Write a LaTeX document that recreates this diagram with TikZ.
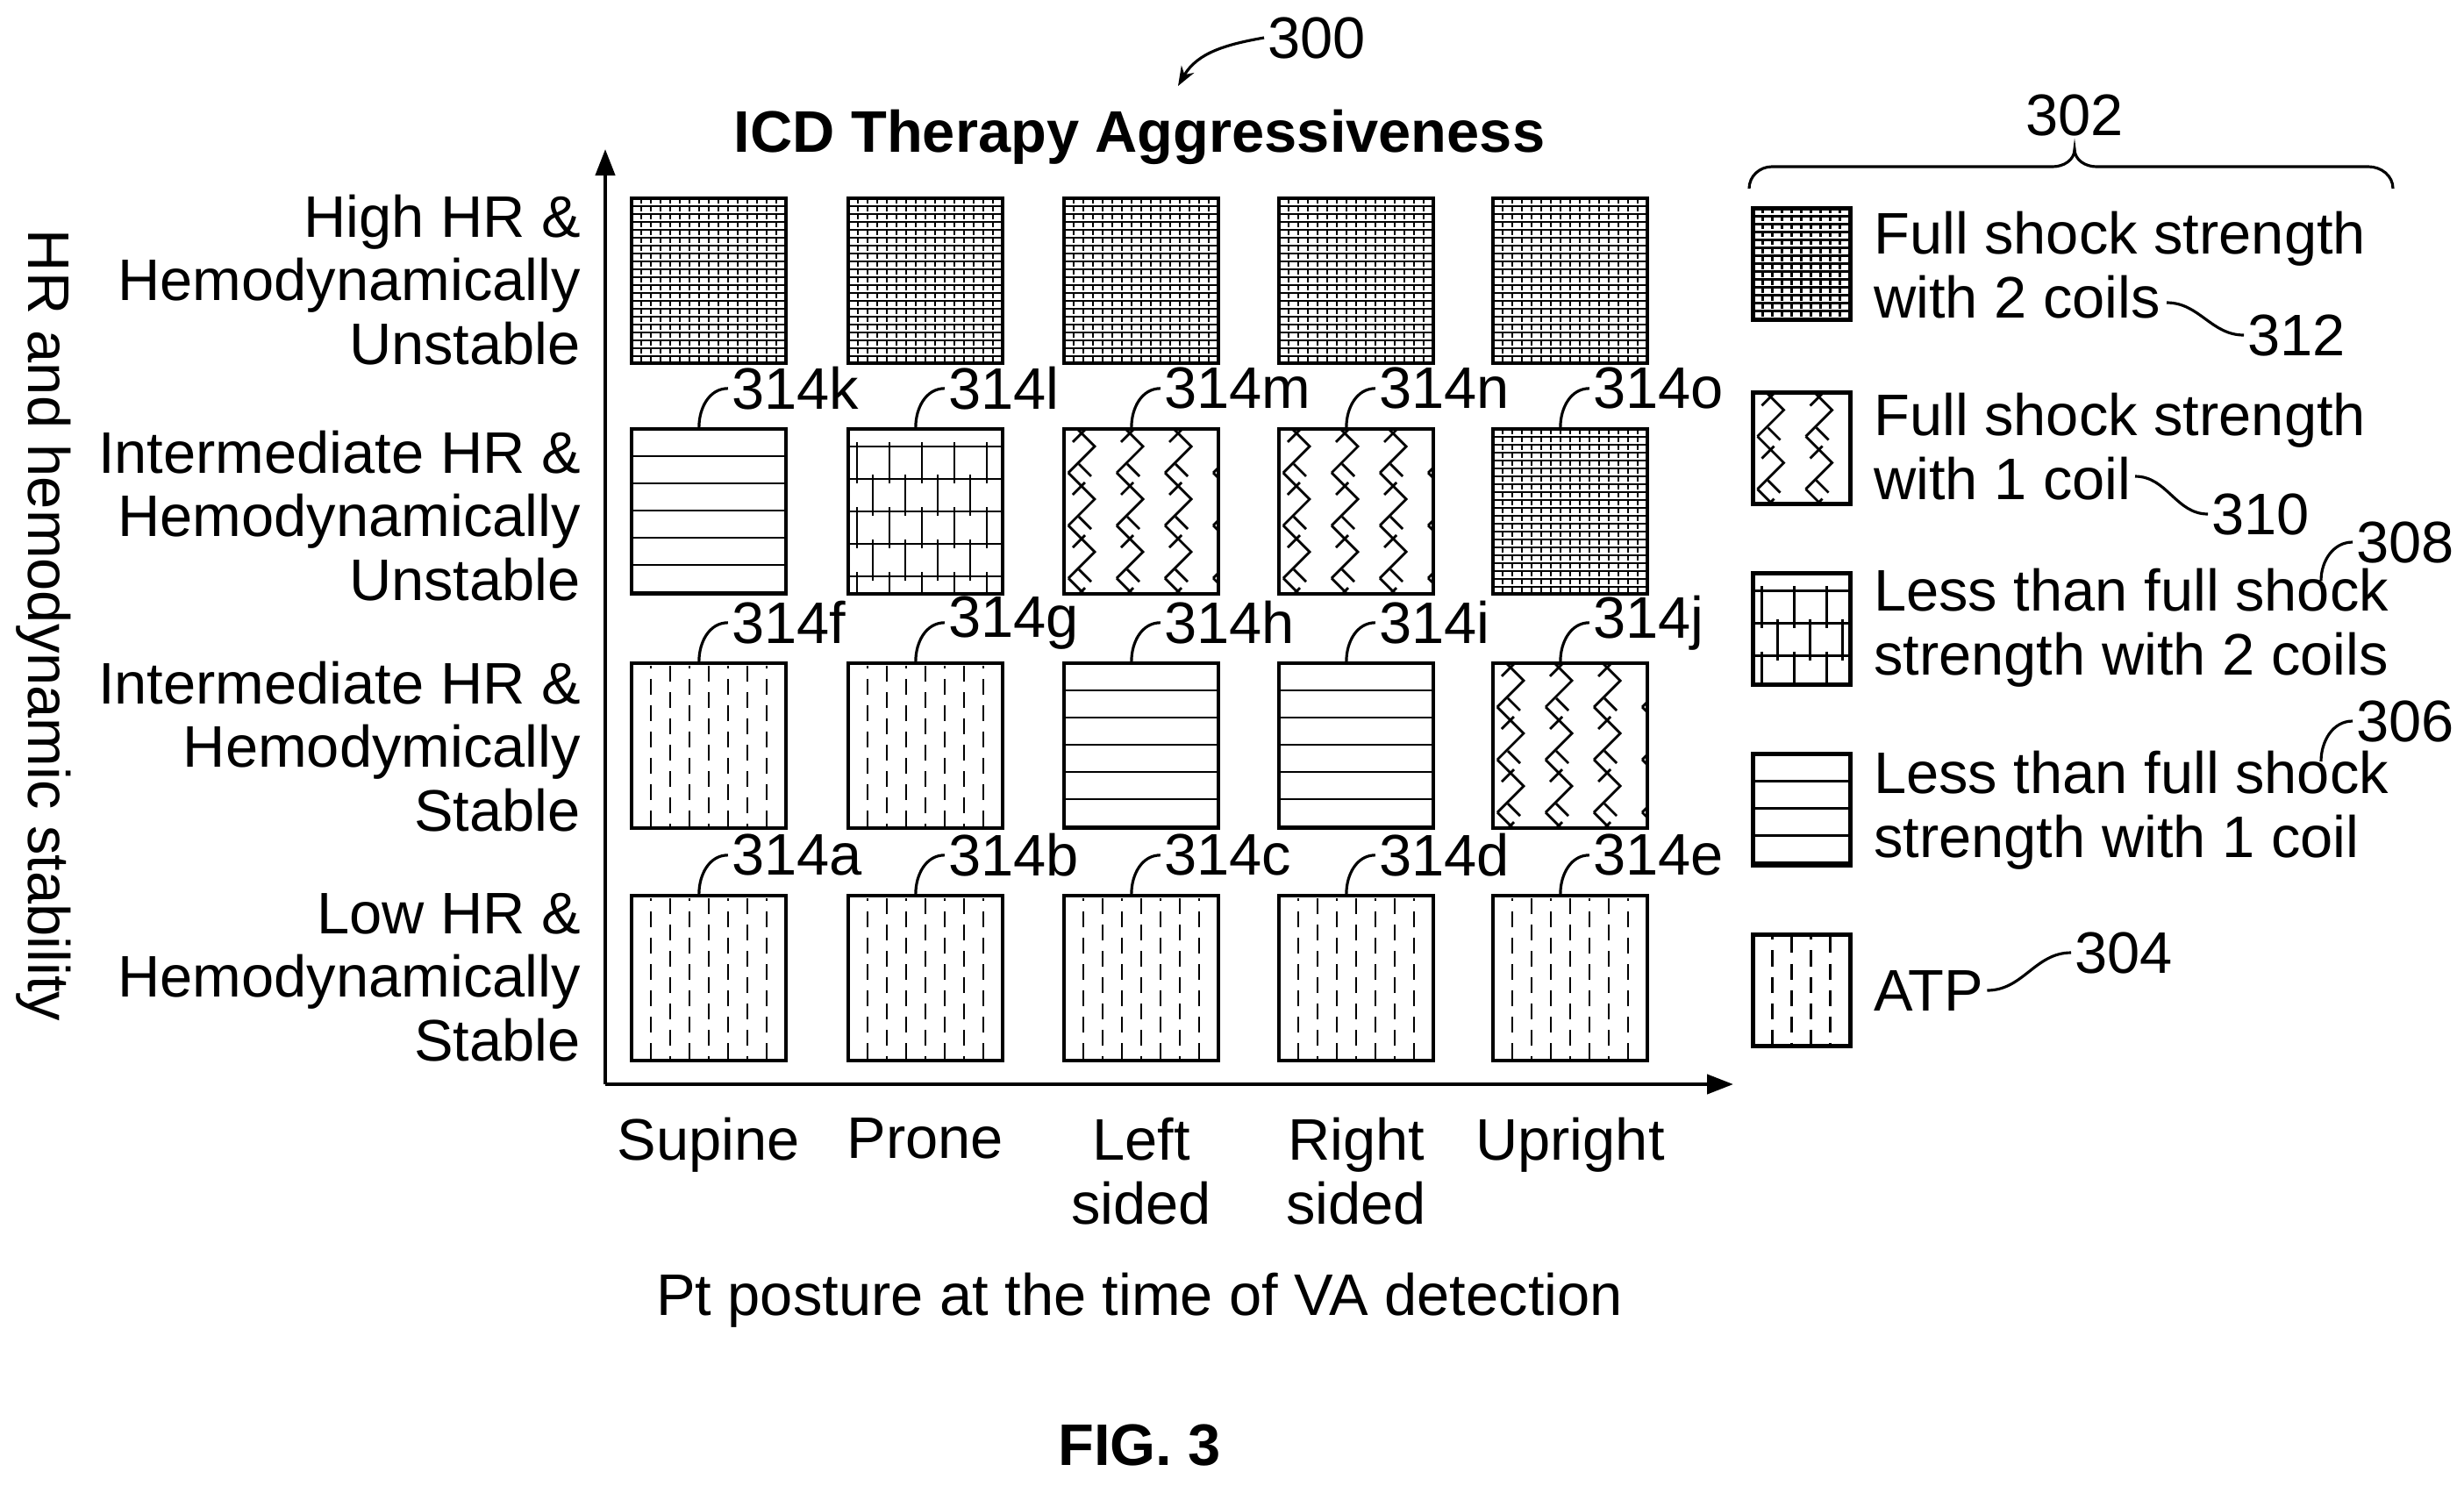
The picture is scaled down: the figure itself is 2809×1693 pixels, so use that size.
\documentclass[tikz,border=0pt]{standalone}
\usepackage{fontspec}
\setmainfont{Liberation Sans}
\usetikzlibrary{arrows.meta,positioning}
\tikzset{
  box/.style={draw, line width=1.2pt, minimum width=1.76cm, minimum height=1.88cm, inner sep=0pt},
  key/.style={draw, line width=1.2pt, minimum width=1.11cm, minimum height=1.27cm, inner sep=0pt},
  txt/.style={font=\fontsize{19}{20.7}\selectfont, inner sep=1pt},
  lead/.style={line width=0.9pt},
  hlines/.style={path picture={
    \foreach \i in {1,...,6}
      \draw[line width=0.8pt] ([yshift=-\i*0.31cm]path picture bounding box.north west) -- ++(3cm,0);}},
  atp/.style={path picture={
    \foreach \i in {1,...,8}{
      \pgfmathsetmacro{\ph}{mod(\i,2)*0.15}
      \draw[line width=0.7pt, dash pattern=on 0.18cm off 0.12cm, dash phase=\ph cm]
        ([xshift=\i*0.22cm, yshift=-0.03cm]path picture bounding box.north west) -- ++(0,-3cm);}}},
  dense/.style={path picture={
    \foreach \i in {1,...,22}
      \draw[line width=0.8pt] ([yshift=-\i*0.09cm]path picture bounding box.north west) -- ++(3cm,0);
    \foreach \i in {1,...,16}
      \draw[line width=0.8pt, dash pattern=on 0.06cm off 0.03cm]
        ([xshift=\i*0.11cm]path picture bounding box.north west) -- ++(0,-3cm);}},
  brick/.style={path picture={
    \foreach \j in {0,...,5}{
      \draw[line width=0.7pt] ([yshift=-\j*0.37cm-0.2cm]path picture bounding box.north west) -- ++(3cm,0);
      \foreach \i in {0,...,5}{
        \pgfmathsetmacro{\sx}{\i*0.37+mod(\j,2)*0.18+0.1}
        \draw[line width=0.7pt] ([xshift=\sx cm, yshift=-\j*0.37cm-0.15cm]path picture bounding box.north west) -- ++(0,-0.47cm);}}}},
  zigzag/.style={path picture={
    \foreach \c in {0,...,3}
      \foreach \k in {0,...,3}{
        \pgfmathsetmacro{\zx}{\c*0.55+0.05}
        \pgfmathsetmacro{\zy}{\k*0.6-0.1}
        \draw[line width=0.8pt] ([xshift=\zx cm, yshift=-\zy cm]path picture bounding box.north west)
          -- ++(0.3cm,-0.3cm) -- ++(-0.3cm,-0.3cm);
        \draw[line width=0.8pt] ([xshift=\zx cm+0.05cm, yshift=-\zy cm-0.25cm]path picture bounding box.north west)
          -- ++(0.14cm,0.14cm);
        \draw[line width=0.8pt] ([xshift=\zx cm+0.12cm, yshift=-\zy cm-0.5cm]path picture bounding box.north west)
          -- ++(0.14cm,-0.14cm);}}},
}
\begin{document}
\begin{tikzpicture}[x=0.01cm, y=-0.01cm, every node/.style={txt}]
\useasboundingbox (0,0) rectangle (2809,1693);
% axes
\coordinate (origin) at (690,1236);
\coordinate (ytop) at (690,170);
\coordinate (xend) at (1976,1236);
\draw[line width=1.2pt, -{Triangle[length=0.3cm,width=0.22cm]}] (origin) -- (ytop);
\draw[line width=1.2pt, -{Triangle[length=0.3cm,width=0.22cm]}] (origin) -- (xend);
\node[font=\fontsize{19}{20.7}\selectfont\bfseries] (title) at (1299,156) {ICD Therapy Aggressiveness};
\node (n300) at (1501,43) {300};
\coordinate (a300) at (1343,98);
\draw[lead, -{Stealth[length=0.22cm]}] (n300.west) to[out=190,in=60] (a300);
\node[rotate=-90] (ytitle) at (50,713) {HR and hemodynamic stability};
\node (xtitle) at (1299,1482) {Pt posture at the time of VA detection};
\node[font=\fontsize{19}{20.7}\selectfont\bfseries] (fig) at (1299,1648) {FIG. 3};
% row labels
\node[anchor=east, align=right] (r1) at (666,319) {High HR \&\\Hemodynamically\\Unstable};
\node[anchor=east, align=right] (r2) at (666,588) {Intermediate HR \&\\Hemodynamically\\Unstable};
\node[anchor=east, align=right] (r3) at (666,851) {Intermediate HR \&\\Hemodymically\\Stable};
\node[anchor=east, align=right] (r4) at (666,1114) {Low HR \&\\Hemodynamically\\Stable};
% column labels
\node[anchor=north, align=center] (c1) at (808,1270) {Supine};
\node[anchor=north, align=center] (c2) at (1055,1270) {Prone};
\node[anchor=north, align=center] (c3) at (1301,1270) {Left\\sided};
\node[anchor=north, align=center] (c4) at (1546,1270) {Right\\sided};
\node[anchor=north, align=center] (c5) at (1790,1270) {Upright};
% grid
\foreach \x/\c in {808/1,1055/2,1301/3,1546/4,1790/5}
  \node[box, dense] (h\c) at (\x,320) {};
\foreach \x/\s/\n in {808/hlines/k,1055/brick/l,1301/zigzag/m,1546/zigzag/n,1790/dense/o}
  \node[box, \s] (b\n) at (\x,583) {};
\foreach \x/\s/\n in {808/atp/f,1055/atp/g,1301/hlines/h,1546/hlines/i,1790/zigzag/j}
  \node[box, \s] (b\n) at (\x,850) {};
\foreach \x/\n in {808/a,1055/b,1301/c,1546/d,1790/e}
  \node[box, atp] (b\n) at (\x,1115) {};
\foreach \n in {a,...,o}{
  \node[anchor=west] (l\n) at ([xshift=1.12cm, yshift=0.44cm]b\n.north west) {314\n};
  \draw[lead] ([xshift=0.79cm]b\n.north west) to[out=90,in=180] (l\n.west);}
% legend
\draw[lead] (1994,215) to[out=90,in=180] (2020,190) -- (2340,190) to[out=0,in=270] (2365,170)
  to[out=270,in=180] (2390,190) -- (2700,190) to[out=0,in=90] (2728,215);
\node (n302) at (2365,131) {302};
\node[key, dense] (k312) at (2054,301) {};
\node[key, zigzag] (k310) at (2054,511) {};
\node[key, brick] (k308) at (2054,717) {};
\node[key, hlines] (k306) at (2054,923) {};
\node[key, atp] (k304) at (2054,1129) {};
\node[anchor=west, align=left] (t312) at (2132,302) {Full shock strength\\with 2 coils};
\node[anchor=west, align=left] (t310) at (2132,509) {Full shock strength\\with 1 coil};
\node[anchor=west, align=left] (t308) at (2132,716) {Less than full shock\\strength with 2 coils};
\node[anchor=west, align=left] (t306) at (2132,924) {Less than full shock\\strength with 1 coil};
\node[anchor=west] (t304) at (2132,1129) {ATP};
\node[anchor=west] (n312) at (2558,382) {312};
\node[anchor=west] (n310) at (2517,586) {310};
\node[anchor=west] (n308) at (2682,618) {308};
\node[anchor=west] (n306) at (2682,822) {306};
\node[anchor=west] (n304) at (2361,1086) {304};
\draw[lead] (2470,345) to[out=0,in=180] (n312.west);
\draw[lead] (2434,543) to[out=0,in=180] (n310.west);
\draw[lead] (2646,662) to[out=90,in=180] (n308.west);
\draw[lead] (2646,868) to[out=90,in=180] (n306.west);
\draw[lead] (t304.east) to[out=0,in=180] (n304.west);
\end{tikzpicture}
\end{document}
